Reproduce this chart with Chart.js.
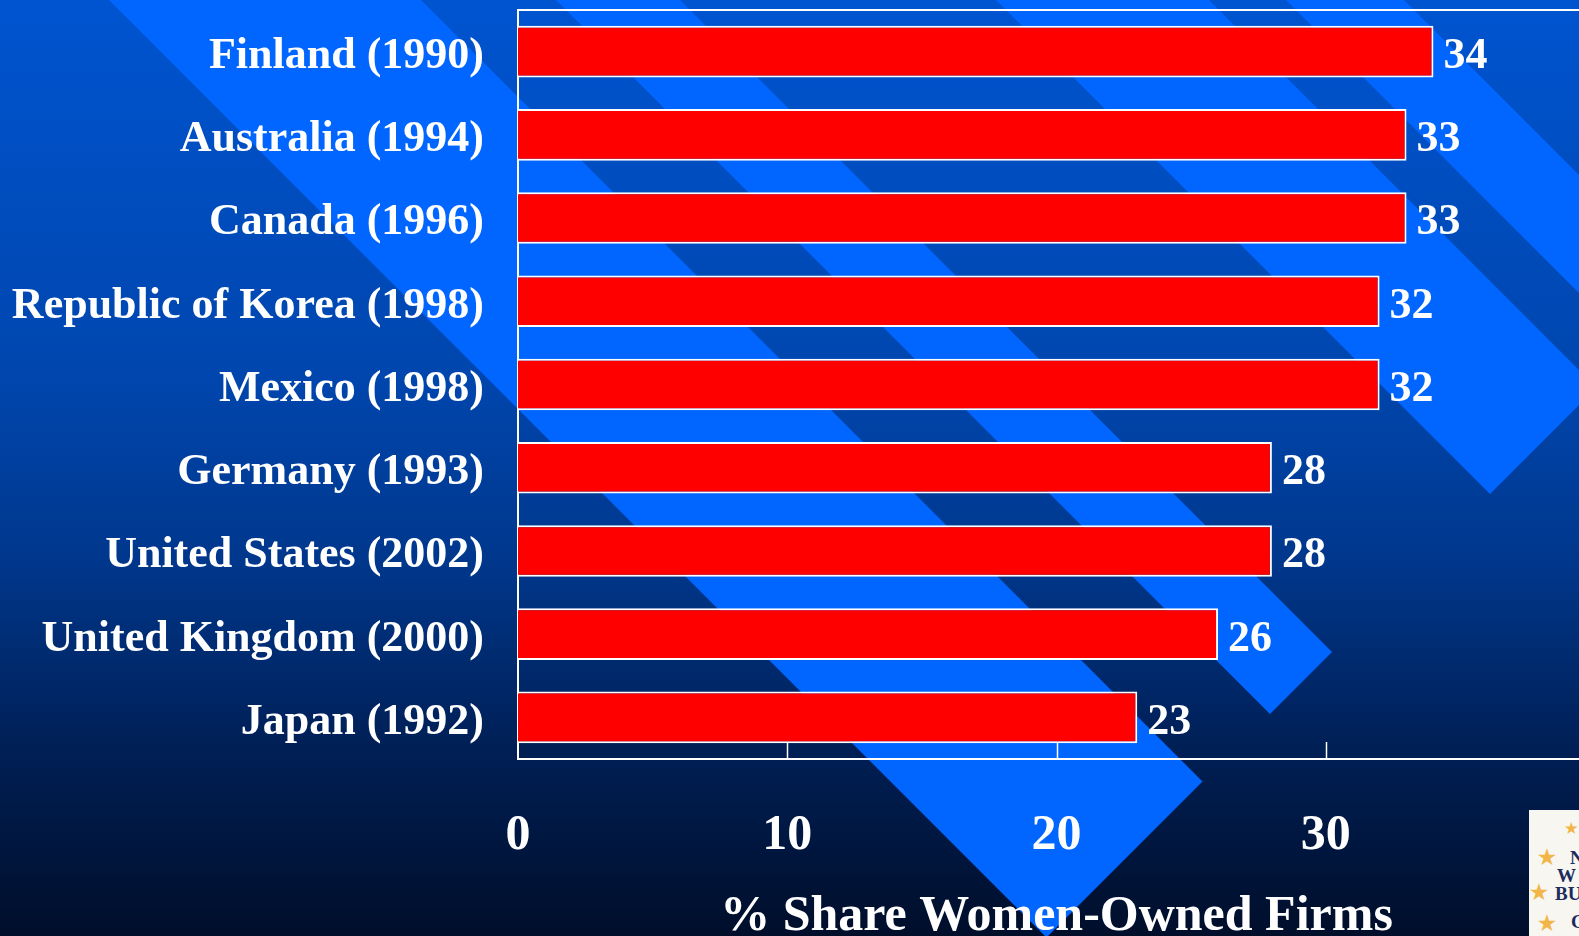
<!DOCTYPE html>
<html>
<head>
<meta charset="utf-8">
<script src="https://cdn.jsdelivr.net/npm/chart.js@4.4.1/dist/chart.umd.min.js"></script>
<style>
  html, body { margin: 0; padding: 0; overflow: hidden; width: 1579px; height: 936px; background: #000e2a; }
  #wrap { position: absolute; left: 0; top: 0; width: 1600px; height: 936px; }
  #logo { position: absolute; left: 1529px; top: 810px; width: 60px; height: 126px; background: #f7f6f0;
          font-family: "Liberation Serif", serif; font-weight: bold; color: #1d2c5e; font-size: 19px; line-height: 1; }
  #logo span { position: absolute; }
  #logo .star { color: #f2b548; font-size: 20px; }
</style>
</head>
<body>
<div id="wrap"><canvas id="chart" width="1600" height="936"></canvas></div>
<div id="logo">
  <span class="star" style="left:36px;top:12px;font-size:14px">★</span>
  <span class="star" style="left:9px;top:37px">★</span>
  <span style="left:41px;top:38px">N</span>
  <span style="left:28px;top:56px">W</span>
  <span class="star" style="left:1px;top:72px">★</span>
  <span style="left:26px;top:74px">BU</span>
  <span class="star" style="left:9px;top:103px">★</span>
  <span style="left:42px;top:102px">C</span>
</div>
<script>
const categories = ["Finland (1990)", "Australia (1994)", "Canada (1996)", "Republic of Korea (1998)", "Mexico (1998)",
  "Germany (1993)", "United States (2002)", "United Kingdom (2000)", "Japan (1992)"];
const shares = [34, 33, 33, 32, 32, 28, 28, 26, 23];
const xTicks = [0, 10, 20, 30];
const xMax = 40;
const axisTitle = "% Share Women-Owned Firms";

const FONT = "'Liberation Serif', 'Times New Roman', serif";

// slide background: navy gradient with light blue diagonal bands
const slideBackground = {
  id: "slideBackground",
  beforeDraw(chart) {
    const { ctx, width, height } = chart;
    ctx.save();
    const g = ctx.createLinearGradient(0, 0, 0, height);
    g.addColorStop(0, "#0054d0");
    g.addColorStop(0.4, "#0046ae");
    g.addColorStop(0.6, "#00378c");
    g.addColorStop(0.8, "#001f55");
    g.addColorStop(1, "#000e2a");
    ctx.fillStyle = g;
    ctx.fillRect(0, 0, width, height);
    const bands = [[109, 421], [556, 680], [996, 1209], [1286, 1404]];
    const cap = 1984;
    ctx.fillStyle = "#0066ff";
    bands.forEach(([a, b]) => {
      ctx.beginPath();
      ctx.moveTo(a, 0);
      ctx.lineTo(b, 0);
      ctx.lineTo((cap + b) / 2, (cap - b) / 2);
      ctx.lineTo((cap + a) / 2, (cap - a) / 2);
      ctx.closePath();
      ctx.fill();
    });
    ctx.restore();
  },
};

// white plot frame and inward tick marks
const plotFrame = {
  id: "plotFrame",
  beforeDatasetsDraw(chart) {
    const { ctx, chartArea: a, scales } = chart;
    ctx.save();
    ctx.strokeStyle = "#ffffff";
    ctx.lineWidth = 2;
    ctx.strokeRect(a.left, a.top, a.right - a.left, a.bottom - a.top);
    ctx.lineWidth = 1.5;
    xTicks.slice(1).concat([xMax]).forEach((v) => {
      const x = Math.round(scales.x.getPixelForValue(v)) + 0.5;
      ctx.beginPath();
      ctx.moveTo(x, a.bottom);
      ctx.lineTo(x, a.bottom - 17);
      ctx.stroke();
    });
    ctx.restore();
  },
};

const valueLabels = {
  id: "valueLabels",
  afterDatasetsDraw(chart) {
    const { ctx } = chart;
    ctx.save();
    ctx.fillStyle = "#ffffff";
    ctx.font = `bold 44px ${FONT}`;
    ctx.textAlign = "left";
    ctx.textBaseline = "middle";
    chart.getDatasetMeta(0).data.forEach((bar, i) => {
      ctx.fillText(String(shares[i]), bar.x + 10, bar.y + 5);
    });
    ctx.restore();
  },
};

new Chart(document.getElementById("chart"), {
  type: "bar",
  data: {
    labels: categories,
    datasets: [{
      data: shares,
      backgroundColor: "#ff0000",
      borderColor: "#ffffff",
      borderWidth: 2,
      barPercentage: 0.62,
      categoryPercentage: 1,
    }],
  },
  options: {
    indexAxis: "y",
    responsive: false,
    animation: false,
    devicePixelRatio: 1,
    layout: { padding: { top: 10, right: 5, left: 0, bottom: 0 } },
    plugins: { legend: { display: false }, tooltip: { enabled: false } },
    scales: {
      x: {
        type: "linear",
        min: 0,
        max: xMax,
        afterBuildTicks: (s) => { s.ticks = xTicks.map((v) => ({ value: v })); },
        afterFit: (s) => { s.height = 177; s.paddingLeft = 0; s.paddingRight = 0; },
        grid: { display: false, drawTicks: false },
        border: { display: false },
        ticks: { color: "#ffffff", padding: 47, font: { family: FONT, size: 50, weight: "bold" } },
        title: {
          display: true,
          text: axisTitle,
          color: "#ffffff",
          padding: { top: 0, bottom: 0 },
          font: { family: FONT, size: 50, weight: "bold", lineHeight: 0.75 },
        },
      },
      y: {
        afterFit: (s) => { s.width = 518; s.paddingTop = 0; s.paddingBottom = 0; },
        grid: { display: false, drawTicks: false },
        border: { display: false },
        ticks: { color: "#ffffff", padding: 34, labelOffset: 5, autoSkip: false, font: { family: FONT, size: 44, weight: "bold" } },
      },
    },
  },
  plugins: [slideBackground, plotFrame, valueLabels],
});
</script>
</body>
</html>
